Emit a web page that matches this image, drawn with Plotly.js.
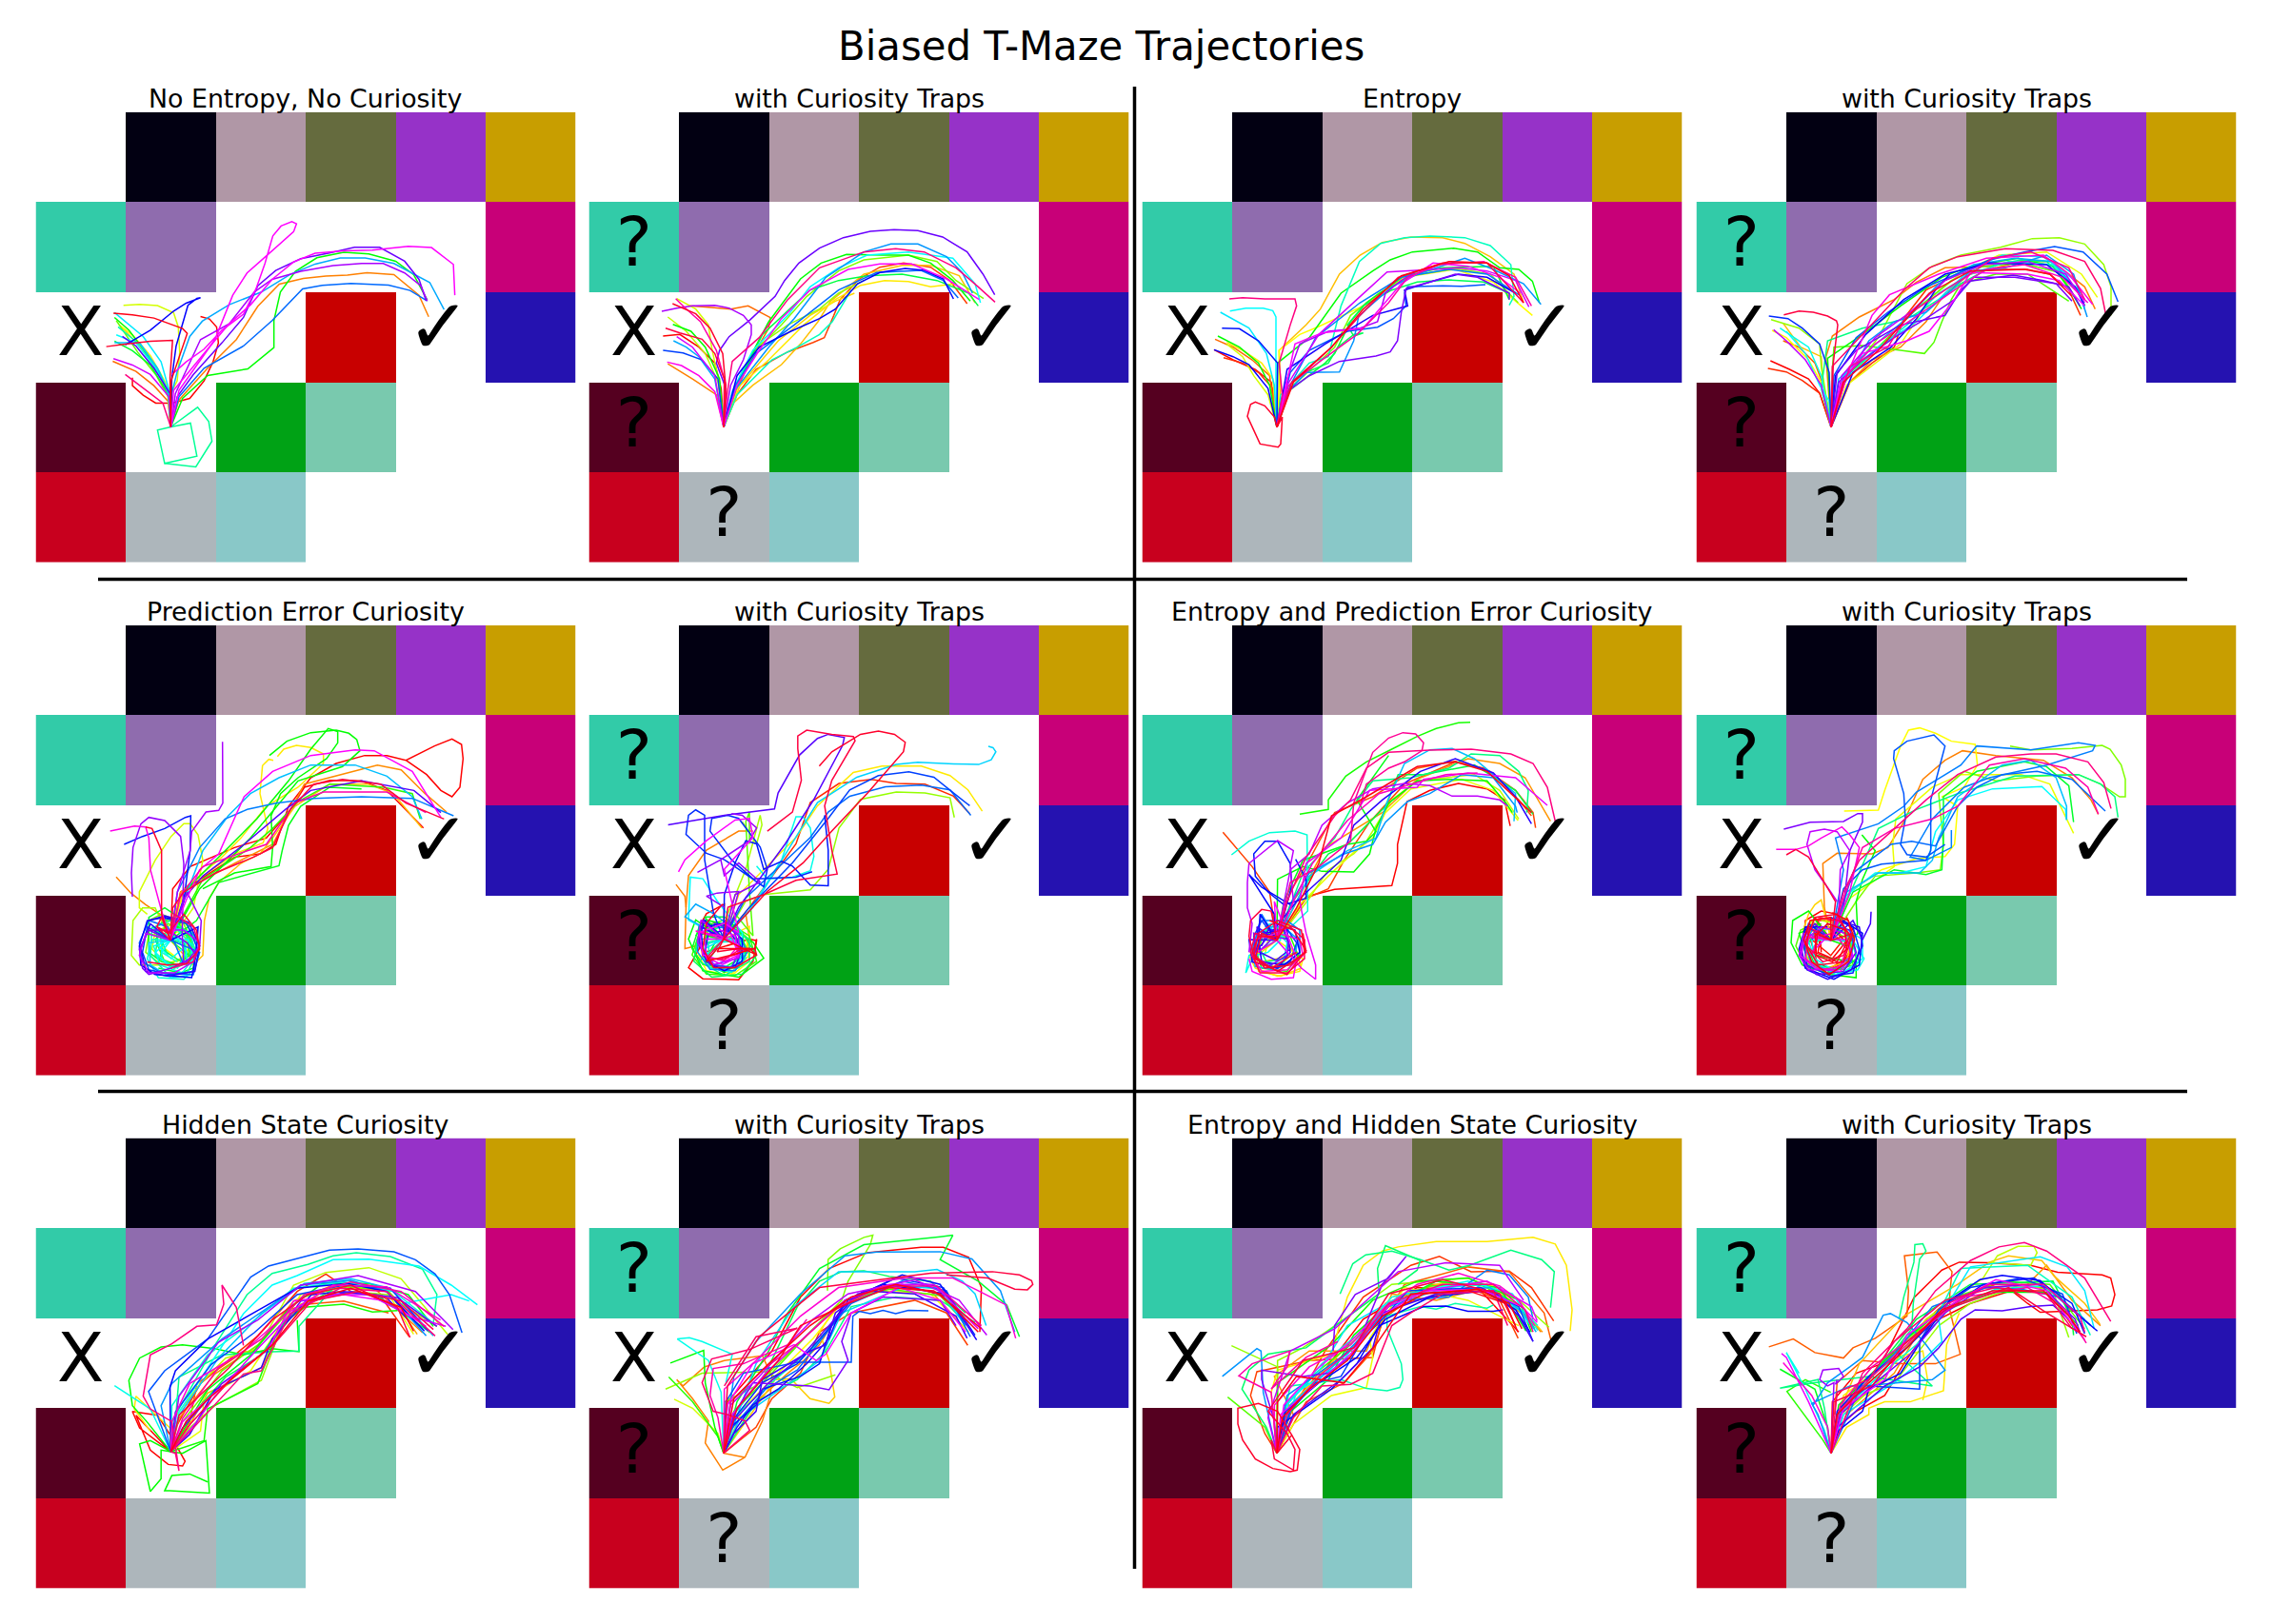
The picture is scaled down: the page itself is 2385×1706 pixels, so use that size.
<!DOCTYPE html>
<html><head><meta charset="utf-8">
<script src="https://cdn.plot.ly/plotly-3.0.1.min.js"></script>
<style>html,body{margin:0;padding:0;background:#fff}</style></head>
<body><div id="chart" style="width:2385px;height:1706px"></div>
<script>
const chartTitle = "Biased T-Maze Trajectories";
const panelTitles = ["No Entropy, No Curiosity","with Curiosity Traps","Entropy","with Curiosity Traps",
  "Prediction Error Curiosity","with Curiosity Traps","Entropy and Prediction Error Curiosity","with Curiosity Traps",
  "Hidden State Curiosity","with Curiosity Traps","Entropy and Hidden State Curiosity","with Curiosity Traps"];
const cellColors = ["#020012","#b097a6","#656b3e","#9632c8","#c89e00","#32cba8","#8f6cae","#c80078","#c80000","#2512b0","#550020","#00a215","#79c9ae","#c8001e","#adb6bb","#89c8c8"];
const mazeGrid = [
  [null,0,1,2,3,4],
  [5,6,null,null,null,7],
  [null,null,null,8,null,9],
  [10,null,11,12,null,null],
  [13,14,15,null,null,null]];

// Each path: hue, then x,y readings (reading frame per panel below).
const A=[397,1105], B=[198,722], C=[201,722], D=[398,1100], E=[397,1095];
const paths_r0c0 = [
[0,A,395,1030,355,1030,320,1005,290,975,290,950],
[0,A,400,1030,450,1015,490,960,515,900,530,840,525,790,505,765,480,757],
[25,A,390,1025,350,975,300,930,235,898],
[30,A,420,1020,500,920,580,830,640,725,700,655,767,637,830,630,890,627,945,619,1020,625,1090,690,1117,758],
[60,A,392,985,370,940,340,880,290,815,255,785],
[70,A,397,1000,415,960,422,870,418,790,405,745,360,723,310,719,265,722],
[120,A,395,1000,360,930,320,860,280,800,240,760],
[120,A,430,1015,500,943,612,922,685,855,685,770,703,680,745,615,805,572,880,555,950,560,1025,583,1075,625,1113,705],
[130,A,392,1005,340,910,290,865,240,835],
[155,A,452,1093,470,1197,380,1220,360,1115,397,1105],
[155,A,472,1043,503,1088,512,1150,467,1231,380,1220],
[180,A,395,1000,355,920,300,840,245,815],
[185,A,395,1000,370,900,320,820,240,745],
[200,A,400,1000,415,930,450,820,485,772,560,720,650,680,730,625,800,592,870,573,940,573,1020,590,1120,650,1160,735],
[215,A,420,1010,490,920,600,850,680,770,765,670,820,659,900,653,1005,658,1065,675,1113,708],
[240,A,400,950,412,850,445,722,470,700,480,698,440,715,405,740,340,800,270,847],
[260,A,395,1000,350,920,300,850,262,820],
[265,A,415,1010,460,940,540,840,600,760,640,660,690,612,760,575,840,557,910,539,980,539,1050,583,1090,640,1110,708],
[280,A,410,1000,480,830,560,780,630,680,680,640,760,615,850,597,930,590,990,590,1050,620,1095,660,1113,708],
[290,A,392,1010,340,940,290,910,237,890],
[300,A,420,990,520,830,570,690,610,620,660,570,740,490,748,465,735,458,705,472,682,503,660,590,635,670,600,750,540,800,490,860,440,900,400,940],
[300,A,405,990,500,860,560,780,620,720,680,640,740,585,800,558,880,550,960,548,1060,536,1125,540,1186,593,1190,690],
[330,A,375,1030,340,1000,270,940],
[350,A,395,950,402,832,340,835,265,845,217,852],
[355,A,398,960,425,870,443,810,430,795,350,762,290,752,237,747],
[50,A,388,1000,360,930,310,850,260,790],
[95,A,390,1010,355,940,305,870,245,770],
[160,A,393,1000,365,930,315,850,250,790],
[195,A,390,1000,360,920,310,840,240,840]];
const paths_r0c1 = [
[0,B,190,600,170,520,120,470,60,430,7,435],
[15,B,240,620,300,540,400,485,480,455,515,440,545,370,565,320,625,255,690,218,765,205,850,218,910,260,965,333],
[25,B,240,600,300,480,340,410,345,377,275,340,220,350,160,345,90,340],
[30,B,175,620,100,570,22,522],
[45,B,230,645,290,590,380,525,440,460,495,390,535,325,640,240,760,212,850,212,940,245,990,330],
[50,B,250,590,370,450,470,370,550,325,610,300],
[55,B,240,600,340,510,450,400,550,320,630,275,705,260,780,263,850,280,930,270],
[70,B,185,590,160,470,150,400,110,350,50,317],
[75,B,180,580,140,490,80,420,22,375],
[85,B,230,600,300,470,400,400,500,350,560,300,640,260],
[90,B,240,590,300,480,380,400,460,310,560,230,640,195,780,180,870,200,930,260,1017,317],
[120,B,185,570,140,470,95,420,38,398],
[120,B,250,560,340,390,440,255,505,205,585,178,700,180,780,180,850,205,920,260,975,325],
[135,B,235,600,320,430,470,290,560,260,650,245,760,240,870,260,970,300,1000,340],
[165,B,240,620,350,510,430,470,500,430,540,390,600,290],
[180,B,225,610,290,480,400,370,470,280,560,220,650,180,780,170,920,190,990,270,1007,330],
[200,B,170,570,120,500,80,470,40,450],
[205,B,230,610,340,470,420,380,520,250,640,170,725,145,810,145,900,185,950,235,982,300],
[215,B,235,590,300,490,420,400,560,290,680,235,820,228,890,260,937,315],
[225,B,180,570,130,510,70,488,7,480],
[240,B,240,560,310,470,410,420,500,380,550,350,620,270,690,235,770,222,830,228,890,255,922,318],
[265,B,205,600,175,520,185,480,215,437,280,385,360,310,390,260,435,205,500,158,575,125,660,105,735,100,810,103,888,123,965,170,1015,240,1052,305],
[280,B,220,590,260,510,285,430,285,400,260,370,215,347,170,338,100,340,50,347,3,357],
[290,B,170,560,100,470,50,437],
[300,B,240,590,310,480,380,380,470,290,590,225,690,208,790,208,900,255,1003,320],
[305,B,170,610,120,560,65,528,20,517],
[320,B,205,590,175,480,125,390,75,345,47,317],
[330,B,210,610,225,515,310,440,400,320,500,220,640,170,740,160,830,170,930,220,1000,280,1053,328],
[345,B,200,570,170,490,130,445,60,425,15,410],
[350,B,205,600,195,490,155,410,110,365,37,333]];
const paths_r0c2 = [
[0,B,180,580,130,540,60,510,0,478],
[10,B,185,600,140,550,90,520,30,503],
[25,B,175,560,120,510,60,470,3,445],
[45,B,210,600,205,480,290,400,335,350,395,240,460,180,530,140,620,123,720,125,790,143,870,185,945,240,975,330],
[55,B,185,570,150,520,90,480,40,455],
[60,B,205,590,205,480,270,430,330,405,470,340,600,250,760,225,880,265,1003,370],
[70,B,170,620,125,560,90,500,40,460],
[90,B,240,600,380,470,430,370,520,300,620,245,760,222,870,240,958,330],
[120,B,175,590,140,520,80,470,12,435],
[120,B,200,520,300,440,400,300,500,230,555,195,625,170,755,158,830,170,900,220,960,225,1003,262,1025,330],
[130,B,220,620,350,520,380,490,430,390,480,330,600,245,720,220,880,215,930,320],
[140,B,240,600,290,550,360,520,390,470,440,430,470,425,440,435,420,400,470,340,560,290,640,265,740,258,850,265,930,300],
[165,B,210,620,300,520,360,500,400,340,458,200,525,143,600,125,680,120,790,125,870,150,935,210,945,310,930,338],
[180,B,195,560,195,375,185,355,155,347,100,347,50,356],
[185,B,190,590,165,490,110,410,20,360],
[205,B,225,620,290,550,395,548,440,450,455,375,480,350,560,280,640,240,790,190,880,225,975,270,1030,335],
[210,B,240,590,320,440,460,330,590,250,740,225,860,240,960,305],
[220,B,240,550,300,480,420,420,515,407,565,380,605,340,600,300,610,280,720,277,780,278,855,273],
[235,B,200,520,140,450,80,412,25,410],
[240,B,170,600,110,525,60,500,0,478],
[245,B,230,540,350,460,500,370,610,340,600,290,680,265,770,240,860,250,950,300],
[270,B,230,610,300,560,395,515,510,498,555,485,578,450,590,360,605,285,680,265,760,240,830,250,930,300,930,320],
[280,B,230,570,270,460,360,420,460,410,515,390,540,300,590,260,640,230],
[290,B,230,590,330,430,450,320,545,233,690,225,770,220,860,230,950,260,992,343],
[300,B,225,600,255,460,340,425,470,410,530,340,590,270,690,205,800,215,900,250,965,300],
[320,B,235,590,340,510,450,430,550,330,610,250,710,210,850,200,950,250,1000,340],
[330,B,215,620,205,520,240,400,260,340,255,318,160,318,90,314,48,318],
[340,B,245,580,370,470,460,370,580,250,720,205,860,205,975,330],
[350,B,215,690,210,775,202,785,145,775,105,688,115,650,130,643,160,655,190,690,198,722],
[355,B,250,580,370,470,470,350,590,245,740,200,860,205,930,245,975,330]];
const paths_r0c3 = [
[0,C,165,615,130,570,70,540,10,513],
[10,C,165,615,110,575,60,548,2,537],
[12,C,260,580,330,520,400,470,430,380,500,290,600,240,720,225,820,225,890,240,950,290,987,370],
[22,C,180,600,150,520,100,470,50,450],
[30,C,260,580,330,510,420,470,500,390,560,300,640,240,800,200,900,200,1000,280,1033,350],
[30,C,185,500,205,435,290,375,350,345,400,320,470,265,560,220,720,215],
[45,C,175,580,170,500,105,470,50,395],
[60,C,180,600,130,510,60,440,15,417],
[65,C,250,590,420,460,520,310,620,230,730,180,880,170,990,240,1040,313],
[85,C,170,530,165,460,100,410,12,383],
[85,C,235,580,350,440,440,270,520,215,610,180,735,155,835,128,920,125,1000,145,1060,210,1083,280,1083,370],
[100,C,205,540,210,470,300,465,420,480,495,490,525,455,550,390,580,320,610,270,720,240,820,240,950,325],
[120,C,190,505,300,430,420,340,550,250,640,215,790,190,900,215,960,300,990,350],
[150,C,170,600,190,450,300,410,400,390,460,370,540,320,610,270,720,210,800,195,880,200,980,290,1000,340],
[175,C,170,560,130,470,70,430,40,410],
[180,C,195,640,165,590,120,490,60,420],
[185,C,240,560,350,470,470,390,560,300,640,225,740,180,870,185,970,260,1000,350],
[205,C,240,590,320,450,400,390,500,360,580,290,640,230,750,220,880,180,965,240,1008,375],
[220,C,210,560,280,440,380,360,500,280,620,230,700,195,810,170,905,153,995,170,1070,240,1105,327],
[230,C,195,550,165,460,110,410,65,380,5,372],
[240,C,215,560,310,430,430,320,560,240,700,205,880,210,970,280,1000,340],
[245,C,270,550,390,470,470,380,530,290,575,240],
[265,C,220,550,280,480,420,400,560,370,610,290,640,262,775,243,870,260,950,280,985,340],
[270,C,225,580,300,510,400,440,500,380,590,320,650,250,780,250,910,270,960,325],
[285,C,170,590,120,510,60,450,20,415],
[300,C,230,590,300,490,440,450,510,420,590,320,640,235,820,240,920,260,1000,340],
[305,C,250,560,330,370,385,305,540,240,690,190,870,180,950,240,1025,335],
[325,C,260,530,380,470,440,370,560,290,640,240,710,190,830,170,950,220,1000,320],
[335,C,205,530,300,430,430,290,510,220,600,185,750,160,900,165,1000,200,1050,285,1068,375],
[345,C,208,520,222,400,218,387,190,372,145,360,100,356,52,368],
[352,C,240,580,350,480,430,390,510,300,640,230,810,225,890,240,960,310],
[100,C,240,570,360,460,470,350,580,260,680,215,800,205,920,235,975,320],
[170,C,230,590,340,480,440,400,540,300,640,240,760,200,900,210,985,300],
[200,C,225,570,330,470,450,370,540,270,650,210,780,190,900,200,990,310],
[285,C,235,560,340,440,450,360,560,260,680,210,820,200,940,240,1000,330],
[315,C,240,570,340,460,460,380,590,290,690,225,810,210,930,250,1010,330]];
const paths_r1c0 = [
[0,B,205,560,260,490,400,430,500,400,570,320,620,240,700,218,800,220,880,250,995,368],
[0,B,230,570,400,460,480,450,530,420,570,300,640,210,720,165,810,140,880,140,940,155,1030,110,1085,88,1115,105,1120,150,1110,240,1085,270,1050,250,1005,200,940,155],
[30,B,180,650,120,610,75,575,27,523],
[33,B,230,570,400,480,520,420,620,230,850,170,925,185,1000,260,1068,318],
[45,B,270,800,300,770,305,660,320,590,350,540,420,480,480,450,520,400,590,300,700,230,820,230,900,260,990,368],
[55,B,215,620,300,520,400,450,490,415,505,370,480,260,488,172,508,152,522,155],
[55,B,240,560,360,460,420,400,500,300,600,240,680,165,680,135,640,115,595,108,555,120,535,143],
[70,B,270,620,300,470,285,390,260,355,240,355,200,395,150,470,100,570,100,620,125,640],
[80,B,150,620,110,620,80,660,75,770,100,800,170,800,240,780,250,700,210,650,170,670],
[110,B,240,640,300,530,450,430,520,370,600,285,700,230,870,240,960,260,985,340],
[120,B,250,560,370,440,470,340,570,220,640,120,695,55,725,65,725,100,690,150,600,210,545,260,515,330,520,430,515,490,400,510,300,560],
[125,B,280,660,350,540,540,487,550,440,570,360,608,300,700,240,800,245],
[120,B,290,560,450,400,600,220,740,175,795,125,785,90,760,70,720,60,640,68,565,95,510,140],
[130,B,270,780,230,800,170,790,130,760,130,650,180,620,240,660,280,720,270,810,230,825,160,810],
[140,B,240,730,250,800,200,770,160,740,150,680,200,650,250,700,260,780],
[170,B,140,720,125,780,160,840,240,845,275,810,270,740,220,690,170,710,170,780,220,810,250,760,220,720],
[180,B,150,760,200,810,250,790,245,730,190,700,160,740,200,780,235,750],
[195,B,240,600,300,440,380,330,450,260,540,210,640,170,780,170,880,205,960,270,990,340],
[210,B,220,570,290,430,370,340,440,310,530,290,650,275,800,270,960,275,1090,330],
[215,B,290,760,270,830,170,825,110,790,100,730,130,660,190,680,240,800],
[235,B,240,600,260,440,262,330,245,335,180,370,110,395,52,420],
[240,B,285,680,280,760,265,840,150,830,105,800,100,740,125,660,180,650,240,660],
[260,B,240,590,300,520,430,420,560,310,640,250,800,220,965,250,1050,320],
[270,B,130,690,100,750,110,810,130,830,200,810,280,770,250,730,190,690,130,690],
[275,B,250,570,295,660,290,740,240,800,235,700,240,480,230,395,180,345,130,335,105,355,80,430,75,510,78,585],
[280,B,220,570,260,440,265,380,310,318,350,313,363,290,362,97],
[300,B,250,590,290,500,350,450,430,270,520,190,640,140,780,122,840,125,960,190,1050,335],
[305,B,170,630,135,500,130,400,120,365,85,362,8,378],
[320,B,230,580,300,490,440,440,500,420,590,290,680,255,880,255,1003,320],
[335,B,210,640,270,680,290,740,270,790,200,810],
[345,B,170,650,155,680,198,700,205,620,240,570,340,510,460,460,520,430,575,310,650,230,740,215,860,230,940,290,1060,340],
[350,B,170,640,170,530,170,440,140,370,120,365],
[60,B,165,700,170,760,220,790,255,750,240,700,190,690,170,740,215,775],
[75,B,150,690,140,750,190,800,250,770,260,710,210,670,160,690],
[90,B,130,700,120,760,170,800,230,800,270,740,240,670,170,640,130,660],
[105,B,175,720,165,780,220,800,270,760,250,690,190,670,150,720,180,790],
[150,B,160,700,150,770,210,810,260,790,265,720,210,680,165,710,190,770],
[160,B,140,680,135,770,190,830,250,825,280,770,260,700,200,660,150,680],
[175,B,145,740,165,800,235,825,270,780,255,720,200,720,170,760,220,790],
[190,B,130,730,135,800,200,840,270,830,285,770,270,700,200,680],
[225,B,125,680,110,760,130,815,200,830,270,820,280,740,250,670,170,650],
[250,B,135,670,105,745,120,820,190,835,275,820,290,740,255,665,180,645,130,660],
[285,B,120,700,100,770,130,825,210,825,270,790,290,730,240,690,170,690],
[345,B,155,680,190,700,240,640,280,690,290,750,250,795,190,800,125,790]];
const paths_r1c1 = [
[0,D,400,990,350,1020,330,1060,330,1130,300,1190,340,1225,440,1228,480,1170,490,1105,470,1100,350,1140],
[10,D,470,1000,600,800,640,670,720,610,810,597,880,610,960,612,1040,650,1085,705],
[30,D,290,1130,293,1000,300,900,350,820,440,760,480,760],
[30,[265,928],290,965,293,1000],
[35,D,460,1020,470,1100,450,1180,400,1200,340,1160,330,1090,380,1060],
[55,D,440,960,600,780,660,680,760,575,840,555,950,555,1030,585,1080,630,1120,697],
[55,D,470,1060,470,1150,420,1210,340,1180,310,1130],
[80,D,410,1020,460,880,500,710,505,740,490,800,450,730],
[85,D,460,980,510,960,640,945,690,880,720,750,780,660,880,637,960,640,1030,655,1042,717],
[100,D,430,1020,480,1090,470,950,460,730,470,700,470,800],
[120,D,320,1040,300,1100,340,1200,440,1220,510,1160,480,1110,420,1060,350,1040,320,1090],
[130,D,345,1030,400,1030,450,1080,460,1150,400,1190,340,1180,310,1130,330,1060],
[150,D,330,1170,400,1215,470,1170,470,1100,400,1060,330,1080,320,1140],
[175,D,470,1010,560,850,600,715,620,715,640,750,650,840,640,885,590,905,520,910,490,870],
[180,D,300,1040,305,905,340,910,380,980,450,1080,450,1170,390,1200,340,1160],
[190,D,480,1000,610,760,660,670,770,590,880,550,940,543,1040,548,1110,550,1145,535,1158,510,1150,497,1137,493],
[200,D,290,1030,320,990,370,1020,440,1080,440,1160,370,1180,330,1120],
[215,D,460,970,640,780,690,700,750,650,850,620,950,615,1030,630,1088,710],
[225,D,470,1000,590,860,690,720,750,630,830,585,915,573,985,590,1040,640,1085,680],
[230,D,370,1020,345,850,345,710,320,693,300,710,293,770,350,830,400,850,440,880,510,935,520,880,500,810,440,720,410,710,365,720,360,760,420,850,480,910,600,905,645,888],
[235,D,400,960,430,860,460,790,490,800,510,880,560,855,590,870,640,930,690,932,690,820,680,710],
[240,D,345,1040,330,1100,350,1170,400,1200,450,1170,450,1100,400,1050,350,1060],
[260,D,440,1000,570,800,650,660,730,490,735,465,690,455,660,468,610,520,550,640,540,690,400,710,243,740],
[275,D,420,1030,440,950,380,955,350,965,400,1000],
[275,D,430,960,500,920,440,860,400,900,390,850,325,890,390,850,470,790,490,750,450,710,420,705],
[285,D,335,1040,325,1110,370,1180,440,1160,440,1090,400,1040],
[300,D,420,1090,440,1150,400,1170,340,1150,330,1080,400,1050,440,1080,400,880,480,780,470,720,430,725,350,790,290,850,272,888],
[310,D,320,1075,390,1090,440,1120,410,1160],
[345,D,410,1000,510,960,600,915,715,895,700,820,680,680,700,600,765,475,760,462,700,455,630,442,605,460,605,500,615,600,590,700,520,760],
[350,D,520,950,620,860,700,760,800,640,900,510,905,480,875,455,830,445,780,455,700,510,665,555],
[355,D,490,1150,470,1130,380,1130,350,1170,420,1150,485,1130,490,1100],
[60,D,340,1050,320,1130,350,1200,420,1215,470,1170,460,1090,400,1060],
[90,D,360,1060,335,1130,370,1195,440,1190,465,1130,430,1070],
[105,D,330,1080,310,1150,350,1210,430,1215,490,1170,470,1090,400,1040,340,1060],
[125,D,350,1090,345,1170,400,1205,455,1165,440,1100,385,1090,355,1150],
[140,D,325,1100,315,1170,365,1220,450,1210,490,1150,450,1080,380,1050,330,1090],
[160,D,355,1110,360,1180,410,1195,450,1150,425,1100,375,1105],
[170,D,340,1120,360,1190,420,1205,460,1160,445,1105,390,1110,360,1160],
[185,D,345,1130,370,1180,430,1190,455,1140,420,1100,370,1110],
[210,D,330,1060,325,1140,360,1195,430,1200,465,1140,430,1070,370,1060],
[250,D,335,1060,340,1150,375,1190,430,1190,450,1130,410,1070,355,1085,345,1150],
[265,D,340,1040,330,1120,360,1180,420,1190,445,1130,425,1070,370,1050],
[295,D,345,1100,350,1160,395,1180,440,1155,430,1090,385,1070],
[335,D,350,1160,400,1165,440,1135,470,1130,430,1150,380,1165],
[350,D,380,1140,440,1130,485,1130,490,1150,430,1190,370,1190,340,1130,350,1050,395,990]];
const paths_r1c2 = [
[0,B,290,585,380,562,560,550,578,480,578,420,608,285,680,250,770,228,860,245,915,280,933,362],
[15,B,175,570,120,490,28,382],
[15,B,290,590,360,560,410,470,490,350,600,230,760,160,850,180,950,250,1005,320,1013,368],
[20,B,240,570,310,450,380,320,500,270,640,180,760,158,870,190,960,280,1000,330],
[35,B,260,600,350,430,530,320,640,215,800,150,900,165,980,210,1060,347],
[55,B,280,780,270,820,200,835,130,810,110,770],
[65,B,270,610,360,520,440,445,500,400,540,320,620,245,780,215,880,250,958,345],
[75,B,300,590,360,500,440,450,480,410,560,280,640,220,820,200,900,250,960,340],
[115,[270,325],360,310,360,280,415,205,480,160,560,120,640,80,700,55,770,37,807,35],
[120,B,200,530,280,490,340,505,440,507,490,450,510,370,550,290,640,220,740,215,860,220,920,290,940,320],
[125,B,220,600,280,470,420,420,480,410,510,380,450,280,550,140],
[135,B,240,610,360,450,420,420,540,300,580,200,660,200,820,170,950,250,1005,325],
[150,B,280,510,380,400,430,310,500,220,620,210,740,180,810,135,900,140,960,190,990,250,985,320],
[170,B,295,630,293,390,255,378,175,383,110,410,55,453],
[175,B,110,770,100,825,125,770,150,700,180,670,230,730,220,790,160,800],
[195,B,300,520,420,440,510,400,540,300,600,165,680,122,750,118,820,150,950,260,945,347],
[205,B,250,590,300,510,410,450,500,420,540,350,610,285,680,260,780,200,880,210,950,300,955,320],
[210,B,150,640,130,720,120,790,200,810,270,780,270,690,230,660,150,660],
[235,B,245,550,240,480,200,410,160,410,125,450,130,520,170,570,220,610,290,590,290,530,257,467],
[240,B,190,640,110,515,150,555,240,610],
[250,B,110,720,120,790,200,810,240,760,230,690,150,700,130,760,260,600,400,470,440,360,530,280,650,190,760,150,880,195,950,270,1000,355],
[285,B,250,600,240,490,250,440,200,408,110,480,105,540,105,620,120,670,110,760],
[285,B,240,500,300,450,340,360,420,290,500,245,600,228,680,235,750,268,830,268,900,280,925,300],
[295,B,275,810,320,845,320,800,290,700,270,600,290,480,400,400,490,250,640,240,660,215,800,195,950,210,1050,297],
[300,B,190,600,260,780,250,840,180,845,120,820,110,780],
[315,B,250,600,310,480,420,345,520,260,640,225,730,200,830,195],
[325,B,240,540,330,490,430,410,440,290,500,130,550,85,595,68,635,72,660,100,655,125,600,160,550,180,480,230,460,300],
[330,B,230,600,290,460,380,330,430,280,480,180,550,130,680,123,810,120,935,135,1005,165,1050,240,1078,360],
[345,B,180,630,150,625,115,660,110,710,130,790,230,830,285,760,275,690,200,660,140,700,125,770,180,810,260,760],
[350,B,150,700,130,780,200,820,290,760,280,700],
[355,B,260,620,330,480,370,330,480,270,640,175,760,160,860,190,1000,320],
[50,B,135,770,140,820,210,835,275,810,260,760,200,780,150,790],
[70,B,150,720,135,780,200,810,250,760,225,710,170,720,160,770],
[110,B,160,690,130,750,150,810,230,820,265,770,240,710,180,700],
[150,B,170,680,140,740,165,790,220,780,235,720,190,700],
[180,B,175,670,140,720,130,770,170,760,210,720,190,690],
[200,B,140,690,120,750,130,805,190,815,250,790,265,720,220,680,160,680],
[225,B,150,660,125,710,130,780,180,810,240,790,260,730,225,680],
[240,B,145,640,140,720,150,790,220,800,270,760,255,690,190,670],
[255,B,135,680,145,760,195,785,240,750,220,690,170,690,150,740],
[270,B,125,700,135,780,180,800,230,770,235,720,190,710,140,760],
[310,B,120,770,150,820,230,815,280,770,270,720,200,700,130,720],
[340,B,130,700,115,760,145,825,230,825,285,780,285,720,240,680,180,700],
[350,B,200,710,140,710,120,760,160,810,240,800,290,755,250,690,175,660]];
const paths_r1c3 = [
[0,C,250,650,275,700,260,770,200,810,140,790,115,730,120,660,170,630,220,640,260,680,270,740],
[5,C,150,650,130,700,160,800,180,830,240,790,270,740,230,660,160,660,140,720,200,770,240,720,200,680,150,700],
[30,C,180,620,175,480,220,448,330,450,380,430,430,350,490,215,560,155,615,125,720,140,870,155,960,210,1020,280,1043,325],
[50,C,170,595,150,610,130,640,110,700],
[60,C,260,570,360,500,470,465,560,458,590,420,600,300,550,270,620,240,662,170,655,105,580,95,530,70,480,53,445,60,420,110,370,250,350,312,242,315],
[65,C,260,590,400,490,395,420,405,340,520,240,610,200,800,200,890,230,965,385],
[90,C,280,600,340,520,470,510,545,500,555,420,540,260,620,190,720,220,850,205,980,200,1050,230,1110,270,1128,270,1128,215,1115,170,1080,120,1055,108,960,118,830,122,765,110],
[120,C,130,630,80,660,75,730,110,800,200,830,280,840,280,790,200,780,120,760,100,700,170,670],
[120,C,250,740,285,700,280,600,300,530,340,440,298,390],
[130,C,270,570,400,500,500,515,550,500,555,400,555,270,660,190,810,160,880,175,950,235,965,350],
[150,C,250,600,350,370,470,310,600,260,780,205,980,200,1050,230,1095,270,1105,335],
[180,C,120,700,150,780,230,830,300,780,300,720,240,680,160,690],
[180,C,250,580,340,510,420,510,500,490,530,380,600,280,710,245,865,238,940,310,943,343],
[195,C,250,570,350,510,480,510,520,470,540,400,600,270,740,170,830,155,910,210,943,300,943,343],
[210,C,240,500,215,400,350,355,430,300,470,255,610,170,660,110,830,122,980,100,1033,108,1025,125,880,170,700,210,620,240,520,340,450,460,500,470,580,430,580,375],
[215,C,270,510,390,420,455,410,530,425,600,300,660,240,740,200,850,190,960,215,1065,315],
[220,C,240,560,300,500,360,482,500,470,515,440,515,280,560,110,525,75,440,95,400,125,398,150,430,260,435,340,420,420,440,452,500,460,560,420],
[240,C,240,660,300,700,290,800,210,845,120,810,100,750,120,680,190,680],
[255,C,270,660,300,720,325,670,327,632],
[270,C,240,620,260,440,300,350,300,323,285,323,240,348,135,350,52,372],
[285,C,225,640,230,500,260,440,220,380,180,372,135,380,125,420,150,500,200,570,220,600],
[295,C,120,710,105,770,150,810,230,820,270,770,250,720,180,720,130,770],
[305,C,260,570,290,430,260,390,235,365,170,400,130,425,90,436,28,436],
[320,C,240,590,300,430,400,370,520,340,600,300,700,170,810,150,940,180,1010,240,1043,325],
[330,C,240,570,290,470,390,380,500,280,600,200,720,145,830,135,910,135,1010,160,1060,225,1083,307],
[345,C,215,600,180,540,130,460,90,436,60,453],
[350,C,270,700,240,790,160,800,120,730,150,650,220,640,260,710,220,790,150,760,160,690],
[45,C,135,690,120,770,170,815,250,790,265,720,215,680,150,700],
[75,C,140,660,110,720,130,790,200,820,260,790,270,720,220,670,170,660],
[100,C,150,670,105,690,90,740,115,790,190,825,270,800,260,720,200,690],
[135,C,160,680,125,740,150,800,240,815,280,780,270,710,200,680],
[160,C,170,710,135,760,170,815,240,825,290,790,265,730,205,710],
[175,C,140,720,150,790,215,830,285,815,305,780,275,730,210,720],
[205,C,145,680,120,740,140,800,210,820,265,790,270,720,215,680],
[230,C,130,670,115,730,125,800,200,835,270,825,290,750,270,680,200,650],
[250,C,125,680,105,745,125,815,190,845,265,815,300,740,290,680,215,655],
[265,C,150,670,110,715,110,785,155,830,240,820,280,760,260,690,190,670,140,720],
[285,C,115,700,100,770,130,815,215,815,265,770,245,700,170,680,120,720],
[315,C,130,710,120,780,170,815,230,805,250,750,210,700,160,710,140,770],
[340,C,130,680,125,740,175,790,240,770,265,710,225,660,160,650],
[355,C,200,650,135,660,115,720,140,790,195,830,255,790,275,720,255,660,205,635],
[355,C,150,700,155,770,205,790,250,750,245,690,190,670,150,710],
[0,C,170,690,160,760,205,780,245,730,215,680,165,690,170,760]];
const paths_r2c0 = [
[0,E,300,980,340,1090,390,1135,430,1140,437,1125,400,1050,360,980,290,968,310,1020,397,1095],
[10,E,410,1020,480,880,640,730,750,590,830,535,900,590,980,600,1063,733],
[20,E,450,1000,470,880,600,780,680,780,720,650,780,630,880,620,1005,658],
[40,E,450,1010,500,910,650,830,720,680,820,590,900,560,1000,580,1085,725],
[55,E,395,1020,300,920,295,960,340,1030],
[65,E,480,1030,490,930,620,840,690,720,760,600,900,570,1000,590,1075,725],
[75,E,400,1000,480,880,550,800,640,770,740,570,830,530,950,515,1040,550,1170,725],
[85,E,450,1020,520,950,650,870,700,720,760,630,900,590,1000,600,1140,700],
[115,E,490,1060,500,960,640,880,700,700,770,640,880,630,960,655,1030,650],
[120,E,370,1090,370,1180,340,1220,310,1070,340,1060,390,1090],
[120,E,430,1100,495,1060,505,1225,395,1218,380,1218,400,1170,450,1165,500,1190],
[120,E,330,1000,290,950,280,870,310,800,370,765,430,758,520,770,600,790,680,770,755,780,750,680],
[125,E,420,1050,500,900,620,790,730,640,820,565,950,565,1060,600,1130,700],
[150,E,410,1000,420,860,540,790,680,780,755,778,755,700,850,580],
[155,E,400,1000,520,760,610,600,680,533,780,505,850,478,915,468,1010,480,1100,520,1140,600,1130,690],
[175,[240,887],340,960,397,1095],
[180,E,420,970,530,780,600,660,680,570,750,540,850,490,950,488,1090,510,1180,570,1253,632],
[180,[1040,630],1080,620,1180,600,1230,620],
[195,E,420,980,530,800,650,660,770,565,900,550,1010,580,1130,730],
[205,E,370,950,400,880,540,740,760,570,900,555,1000,590,1110,730],
[220,E,335,905,380,840,500,740,620,545,670,510,840,460,920,456,1020,465,1080,490,1135,535,1175,600,1210,720],
[240,E,395,890,410,840,500,740,640,650,750,580,890,565,1000,590,1105,715],
[250,E,450,1040,520,900,650,830,680,740,790,600,880,590,1000,610,1060,680],
[280,E,420,920,530,750,640,680,760,570,920,540,1080,590,1185,710],
[290,E,470,1000,520,920,640,770,750,640,840,600,950,600,1070,670,1165,700],
[300,E,430,1000,560,870,670,770,740,620,880,600,1000,620,1110,700],
[310,E,400,1000,450,880,600,780,720,660,850,570,1000,575,1150,680],
[330,E,410,1100,420,1155,400,1000,340,960,320,920,340,790,400,755,470,700,525,695,545,630,540,570,580,640,600,760],
[330,E,460,1020,600,850,650,840,730,660,870,580,1000,590,1135,730],
[345,E,420,980,560,830,680,680,780,600,900,570,1030,640,1065,735],
[355,E,440,1000,500,930,680,760,780,620,900,580,1040,640,1075,715],
[30,E,420,990,520,850,640,760,740,620,850,570,970,585,1100,720],
[95,E,430,1000,540,840,650,750,760,610,880,575,1000,585,1120,720],
[140,E,440,1000,550,860,650,790,730,660,840,590,970,600,1110,710],
[170,E,400,950,500,790,620,690,740,580,880,560,1020,590,1130,690],
[225,E,410,970,510,820,630,720,750,600,880,570,1010,580,1115,715],
[265,E,430,1020,540,880,660,780,760,620,900,590,1030,610,1140,700],
[320,E,430,990,530,830,650,740,770,600,900,560,1040,590,1160,700],
[340,E,450,1010,570,860,690,750,790,620,920,590,1040,620,1130,710]];
const paths_r2c1 = [
[0,B,210,560,350,400,440,230,530,140,650,90,820,73,890,73,970,105,1010,200,1005,340],
[15,B,300,640,350,550,440,470,500,340,600,280,800,240,900,280,967,382],
[30,B,265,735,195,775,140,690,150,620,100,550,50,490,70,510,137,450,200,430,320,415,350,480,345,540,320,620,265,735],
[33,B,300,560,400,470,450,430,500,380,580,250,700,200,850,210,960,330],
[48,B,360,490,410,488,470,550,530,565,548,545,530,430,500,340,560,250],
[60,B,260,580,370,470,480,360,560,260,700,210,850,220,970,340],
[70,B,180,660,100,580,42,552],
[85,[15,520],130,470,330,465,430,515,550,475],
[90,B,200,560,300,510,570,240,590,180,660,65,668,35,640,42,565,78,527,112,525,210],
[110,B,180,670,100,560,25,482],
[120,B,170,640,140,500,135,398,30,438],
[130,B,240,560,340,400,400,280,500,140,640,65,880,40,920,35,880,112,1000,180,1090,255,1130,355],
[140,B,230,600,330,470,430,260,500,180,570,150,640,147,720,165,850,180,960,280],
[150,B,300,560,430,490,520,400,600,260,740,230,880,240,990,310],
[175,B,190,530,150,430,52,362,90,358,130,370,225,410,205,500],
[190,B,250,610,420,490,500,430,570,280,760,200,870,200,960,320],
[190,B,300,440,420,260,560,150,800,150,870,143,950,180,990,220,1025,320],
[205,B,230,480,300,370,440,220,580,100,680,88,880,87,980,110,1070,210,1115,340],
[215,B,210,660,330,520,430,460,540,320,600,250,760,180,900,210,975,355],
[220,B,205,560,260,470,430,435,600,435,605,290,625,275,660,282,700,272,740,282,780,272,843,273],
[235,B,220,640,300,570,320,520,440,480,500,440,540,310,590,240,760,160,880,190,960,310],
[245,B,240,640,290,570,370,520,460,440,530,360,580,240,700,190,900,220,995,365],
[255,B,230,660,300,590,320,490,470,400,520,380,550,280,640,210,800,220,930,290,965,360],
[270,B,230,600,290,500,470,510,530,522,590,430,570,370,600,280,700,230,880,240,930,320],
[285,B,220,570,310,480,420,360,480,300,590,220,800,175,940,240,1027,350],
[300,B,210,570,290,440,420,380,490,430,520,410,600,280,750,200,880,240,960,340],
[310,B,200,520,300,430,440,290,560,200,770,170,920,170,1000,210,1088,255,1118,360],
[320,B,180,610,155,540,165,455,260,440,400,380,460,300],
[335,B,280,650,265,620,210,600,165,590,130,500,160,425,280,395,430,328,300,355,200,510],
[345,B,210,510,310,355,500,200,650,180,850,155,1045,150,1130,160,1168,178,1172,190,1155,207,1115,205,1030,170,900,160],
[350,B,240,580,370,430,440,320,590,250,720,200,860,210,950,280,1010,330],
[100,B,230,590,350,470,470,340,580,240,720,205,880,225,965,320],
[165,B,240,600,360,490,480,390,590,250,740,190,880,205,975,330],
[230,B,225,620,320,500,430,440,520,340,600,240,740,170,890,200,990,350],
[262,B,230,620,340,500,440,420,530,320,620,220,760,190,910,230,980,340],
[292,B,225,600,330,470,460,350,580,240,720,190,860,190,1000,330],
[325,B,220,560,320,460,440,370,560,260,700,195,870,195,1010,320],
[355,B,230,550,340,440,470,320,600,230,740,190,880,220,1000,340]];
const paths_r2c2 = [
[0,B,240,590,340,470,470,300,640,200,840,210,960,340],
[12,B,240,600,350,400,470,230,620,130,710,102,810,150,930,148,1000,200,1070,305],
[15,B,160,660,115,540,135,465,300,430,500,420,530,300,600,250,800,200,900,240,958,360],
[22,B,290,560,410,500,500,400,530,310,600,190,800,135,930,150,1040,280,1065,380],
[35,B,250,600,190,480,300,400,480,400,560,220,700,240,860,200,980,290,1035,340],
[55,B,180,530,200,460,370,410,400,300,420,230,470,130,530,85,580,72,700,55,860,55,1005,42,1075,63,1110,130,1128,270,1122,337],
[65,B,250,630,370,540,480,515,500,420,490,360,600,200,800,240,960,320],
[85,B,200,450,55,383],
[85,B,200,430,280,390,410,300,560,190,800,170,950,230,1055,325],
[100,B,160,640,43,545],
[115,B,200,500,370,380,500,240,640,180,800,170,960,240,1000,340],
[125,B,230,600,360,490,440,350,530,270,700,180,900,200,983,337],
[145,B,165,640,88,520,110,460,170,410,290,390,410,300,520,220,515,140,540,68,650,115,640,145,580,190],
[150,[397,220],437,125,478,97,560,85,650,112,740,145,805,130,935,82,1032,112,1072,150,1060,263],
[160,B,240,510,400,490,480,518,545,525,585,515,595,490,590,440,545,330,545,290,650,260,700,268,760,250,860,265,880,255],
[178,B,260,530,400,440,500,300,560,230,800,180,940,220,1020,335],
[185,B,220,580,340,450,420,320,600,220,820,190,960,270,1005,330],
[205,B,155,530,148,400,135,392,26,480],
[210,B,230,540,400,420,520,300,600,240,740,230,860,145,930,160,990,230,1005,300],
[225,B,240,590,320,500,400,480,470,360,530,300,610,210,840,200,960,260,1005,370],
[240,B,200,640,370,520,410,480,450,440,520,320,660,260,730,258,800,275,880,275,910,270],
[255,B,250,600,400,490,500,390,530,280,700,220,880,210,960,290,1005,370],
[270,B,190,620,150,490,150,460,280,480,360,470,440,410,530,190,605,102,550,170,445,222,380,320,375,400],
[285,B,170,610,240,400,380,330,470,250,580,150,730,122,900,130,975,240],
[295,B,210,600,340,490,430,410,540,280,660,210,860,180,1000,260,1018,305],
[310,B,190,640,190,570,300,450,430,380,570,240,640,190,770,155,900,195,960,240,1010,320],
[320,B,180,530,78,478,120,440,238,400,230,450,180,520,290,420,390,370],
[335,B,250,610,340,510,430,505,500,470,560,320,620,280,720,220,880,210,925,320],
[345,B,180,680,190,740,250,775,255,710,230,660,170,590,280,430,440,390,550,220,720,175,900,220,950,320],
[350,B,245,665,270,710,262,775,240,780,185,770,130,740,90,680,75,630,75,580,140,565,200,590,245,665],
[355,B,200,560,260,480,410,500,510,380,620,220,800,210,920,250,957,340],
[28,B,230,590,330,470,440,390,540,250,690,190,860,190,980,280,1030,340],
[48,B,240,570,340,470,450,350,560,230,720,185,880,195,1000,300,1030,335],
[105,B,225,570,320,470,430,380,530,270,680,195,840,190,970,260,1010,330],
[170,B,235,560,340,440,450,350,560,250,700,200,850,190,980,280,1020,320],
[198,B,240,570,340,480,450,380,550,260,700,210,870,200,975,280,1015,340],
[240,B,225,590,330,500,450,420,540,300,680,230,850,210,950,270,995,340],
[300,B,220,570,320,460,430,370,540,260,680,210,840,205,970,260,1018,310],
[328,B,230,600,330,480,450,380,550,250,720,190,880,190,980,270,1005,340],
[358,B,215,610,300,520,420,430,530,290,660,220,830,205,930,250,970,330]];
const paths_r2c3 = [
[0,C,205,560,280,470,360,440,462,232,550,145,605,120,700,122,830,130,915,152,1055,160,1082,170,1095,222,1085,258,1040,270,860,278,820,250,770,210,640,250,520,310,430,440,370,540,280,590,210,650],
[22,[5,387],82,362,150,405,240,422,270,390,340,360,440,290,445,210,432,100,535,88,582,150,575,220,575,270,608,410,530,440,420,440,300,430,220,500,212,600],
[35,C,250,600,400,470,500,300,680,200,800,210,880,130,960,240,1050,320],
[45,C,240,560,290,440,430,290,600,190,700,120,760,100,865,115,905,165,1000,250,1048,315],
[55,C,250,640,320,600,320,580,370,560,450,560,555,525,565,380,605,280],
[55,C,240,540,400,420,490,400,505,490,490,555],
[75,C,240,600,370,480,500,300,680,170,725,100,790,70,840,70,850,90,830,130,700,120],
[85,C,230,600,300,540,400,500,540,320,640,250,800,190,900,210,950,357],
[110,C,175,680,62,527,120,490,200,530],
[125,C,190,640,150,520,40,457],
[135,C,230,580,350,450,470,300,640,190,900,180,960,300,965,350],
[150,C,180,580,160,490,40,517,150,500,320,480,520,510,400,400,455,330,460,250,480,110,500,85,490,62,465,65,462,120,430,230,415,300],
[165,C,230,590,300,500,430,400,540,280,610,140,700,135,820,130,960,230,1018,350],
[175,C,180,650,120,520,60,405,100,470],
[185,C,240,600,400,500,500,420,550,370,540,300,640,135,860,103,945,135,1000,210,1030,330],
[205,C,160,600,140,565,260,510,300,510,520,490,560,460,500,380,440,310,388,282,365,287,300,420,260,450,190,500,145,570],
[212,C,300,500,400,410,520,260,690,200,800,205,920,230,1020,320],
[225,C,240,570,320,510,480,520,480,370,540,270,640,200,800,170,930,220,975,345],
[240,C,225,650,300,590,320,520,420,470,490,360,575,240,670,175,740,162,860,178,960,270,1040,337],
[260,C,210,650,370,510,480,450,540,390,610,300,655,270,740,273,830,260,900,255,950,300],
[278,C,210,500,190,510,165,490,175,460,225,455,240,480,215,505,220,490],
[295,C,170,650,130,560,60,420,45,408],
[300,C,240,580,370,490,440,350,600,240,720,175,880,210,1000,365],
[310,C,190,640,140,540,50,437],
[320,C,230,570,330,450,480,340,620,230,820,200,940,270,1005,375],
[330,C,300,470,440,330,530,210,640,115,730,72,810,58,880,85,1000,170,1082,307],
[335,C,220,530,320,490,400,370,560,240,720,200,880,220,960,330],
[345,C,210,560,330,510,430,380,560,270,760,200,880,280,1005,355],
[15,C,235,590,340,470,460,340,570,240,720,190,880,200,960,320],
[100,C,235,580,350,460,470,340,590,230,740,180,890,190,1000,330],
[120,C,225,570,330,470,440,360,560,260,720,215,880,215,980,320],
[170,C,235,590,350,480,470,380,570,270,720,205,870,195,1000,300],
[235,C,220,590,320,480,440,390,550,280,680,190,840,170,960,250,1000,345],
[270,C,230,600,340,500,450,410,560,280,680,200,860,190,970,300,985,340],
[325,C,225,590,330,480,440,380,570,250,700,190,870,190,985,290,1000,340],
[355,C,220,600,320,500,430,400,550,270,710,210,870,210,950,290,985,340]];

const panelPaths = [paths_r0c0,paths_r0c1,paths_r0c2,paths_r0c3,paths_r1c0,paths_r1c1,paths_r1c2,paths_r1c3,paths_r2c0,paths_r2c1,paths_r2c2,paths_r2c3];

// reading frames: where cell (0,0) lies in the readings, and the size of one cell in reading units
const wideFrame = o => ({ox:o[0],oy:o[1],cw:251.2,ch:283.7});
const tightFrame = ox => ({ox:ox,oy:-270.7,cw:283.5,ch:283.7});
const frames = [wideFrame([20,113]),tightFrame(-226.5),tightFrame(-226.5),tightFrame(-223.5),
  tightFrame(-226.5),wideFrame([22,111]),tightFrame(-226.5),tightFrame(-223.5),
  wideFrame([20,107]),tightFrame(-226.5),tightFrame(-226.5),tightFrame(-223.5)];

const panelLeft = [37.5,618.5,1199.5,1781.5], panelTop = [117.7,656.7,1195.6];
const W=2385,H=1706,PW=567,PH=473;
const traces=[], annotations=[], layout={width:W,height:H,margin:{l:0,r:0,t:0,b:0},paper_bgcolor:"#fff",plot_bgcolor:"rgba(0,0,0,0)",showlegend:false};

const colorscale = cellColors.map((c,i)=>[i/(cellColors.length-1),c]);
const checkGlyph = "\u2713";
panelTitles.forEach((title,idx)=>{
  const n=idx+1, r=Math.floor(idx/4), c=idx%4, xn="x"+(n>1?n:""), yn="y"+(n>1?n:"");
  layout["xaxis"+(n>1?n:"")]={domain:[panelLeft[c]/W,(panelLeft[c]+PW)/W],range:[0,6],visible:false,fixedrange:true,anchor:yn};
  layout["yaxis"+(n>1?n:"")]={domain:[1-(panelTop[r]+PH)/H,1-panelTop[r]/H],range:[5,0],visible:false,fixedrange:true,anchor:xn};
  traces.push({type:"heatmap",z:mazeGrid,x0:0.5,dx:1,y0:0.5,dy:1,xaxis:xn,yaxis:yn,colorscale:colorscale,zmin:0,zmax:cellColors.length-1,showscale:false,hoverinfo:"skip"});
  const f=frames[idx];
  panelPaths[idx].slice().sort((a,b)=>a[0]-b[0]).forEach(p=>{
    const flat=p.slice(1).flat(), xs=[], ys=[];
    for(let i=0;i<flat.length;i+=2){xs.push((flat[i]-f.ox)/f.cw);ys.push((flat[i+1]-f.oy)/f.ch);}
    traces.push({type:"scatter",mode:"lines",x:xs,y:ys,xaxis:xn,yaxis:yn,hoverinfo:"skip",line:{color:`hsl(${p[0]},100%,50%)`,width:1.5,simplify:false}});
  });
  const sx=[0.5], sy=[2.51], st=["X"];
  if(c%2===1){sx.push(0.5,0.5,1.5);sy.push(1.515,3.525,4.52);st.push("?","?","?");}
  traces.push({type:"scatter",mode:"text",x:sx,y:sy,text:st,xaxis:xn,yaxis:yn,hoverinfo:"skip",textposition:"middle center",cliponaxis:false,textfont:{family:"DejaVu Sans",size:72,color:"#000"}});
  traces.push({type:"scatter",mode:"text",x:[4.48],y:[2.47],text:[checkGlyph],xaxis:xn,yaxis:yn,hoverinfo:"skip",textposition:"middle center",cliponaxis:false,textfont:{family:"DejaVu Sans",size:80,weight:"bold",color:"#000"}});
  annotations.push({text:title,xref:xn,yref:yn,x:3,y:0,xanchor:"center",yanchor:"bottom",yshift:-3,showarrow:false,font:{family:"DejaVu Sans",size:26.8,color:"#000"}});
});
annotations.push({text:chartTitle,xref:"paper",yref:"paper",x:1156/W,y:1-49/H,xanchor:"center",yanchor:"middle",showarrow:false,font:{family:"DejaVu Sans",size:41.8,color:"#000"}});
layout.annotations=annotations;
const rule=(x0,y0,x1,y1)=>({type:"line",xref:"paper",yref:"paper",x0:x0/W,x1:x1/W,y0:1-y0/H,y1:1-y1/H,line:{color:"#000",width:3.5}});
layout.shapes=[rule(1191.5,91,1191.5,1648),rule(103,608.5,2297,608.5),rule(103,1146.5,2297,1146.5)];
Plotly.newPlot("chart",traces,layout,{displayModeBar:false,staticPlot:true});
</script></body></html>
